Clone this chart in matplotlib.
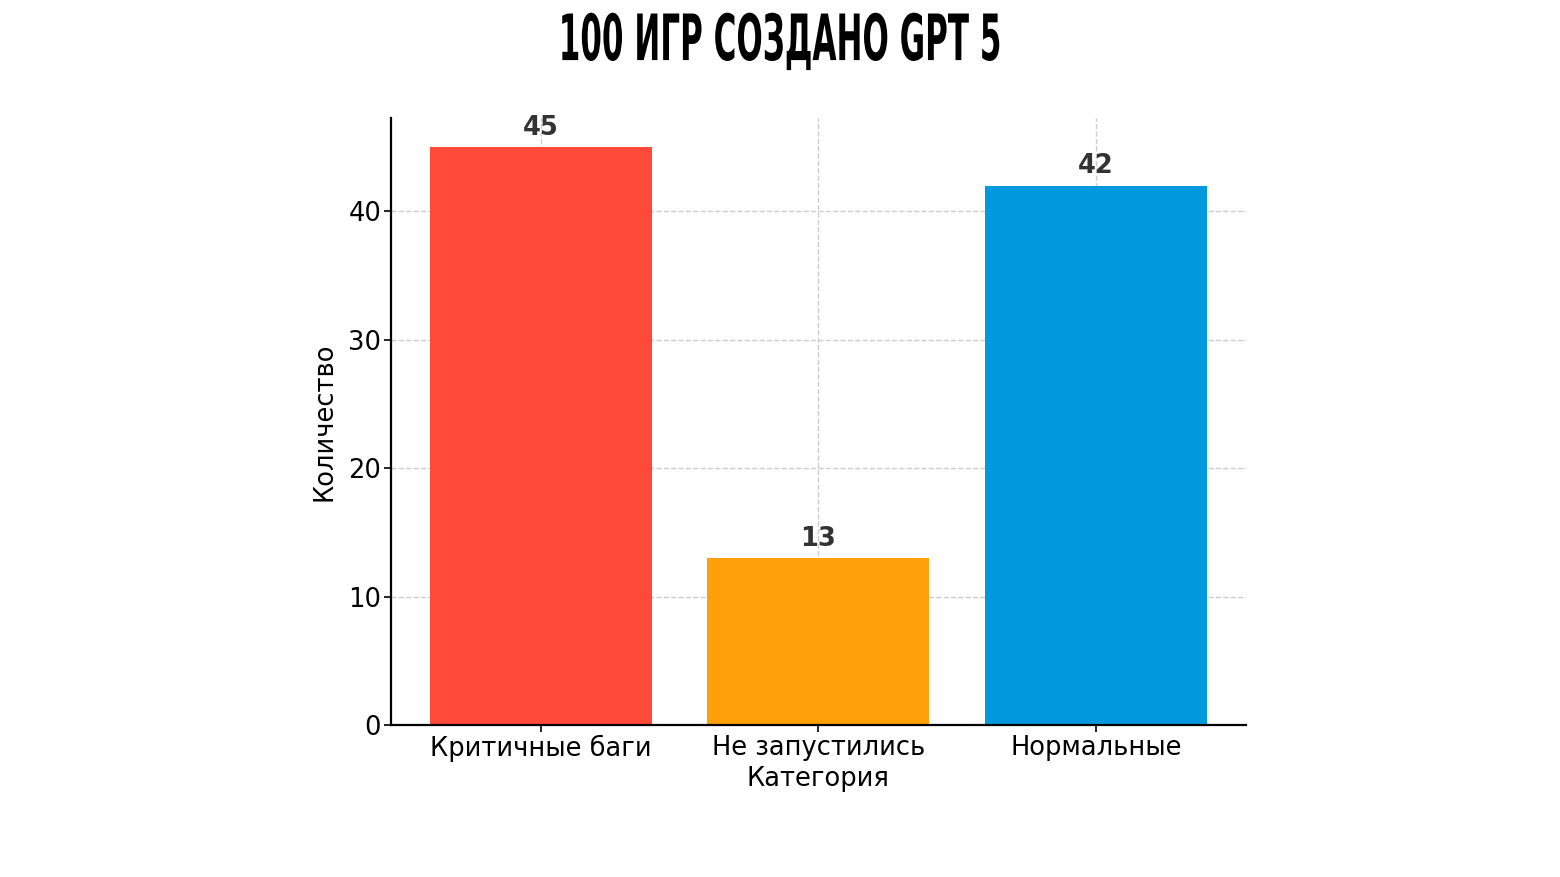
import numpy as np
import matplotlib.pyplot as plt
from matplotlib.patheffects import AbstractPathEffect
from matplotlib.transforms import Affine2D

categories = ['Критичные баги', 'Не запустились', 'Нормальные']
counts = [45, 13, 42]
colors = ['#ff4a3a', '#ff9f0a', '#0099dd']


class Squeeze(AbstractPathEffect):
    # narrow the glyphs horizontally around a center x (pixels)
    def __init__(self, cx, sx):
        super().__init__()
        self.cx = cx
        self.sx = sx

    def draw_path(self, renderer, gc, tpath, affine, rgbFace=None):
        t = affine + Affine2D().translate(-self.cx, 0).scale(self.sx, 1).translate(self.cx, 0)
        renderer.draw_path(gc, tpath, t, rgbFace)


fig = plt.figure(figsize=(15.6, 8.77), dpi=100)
ax = fig.add_axes([0.2506, 0.1733, 0.548, 0.692])

x = np.arange(len(categories))
bars = ax.bar(x, counts, width=0.8, color=colors, zorder=2)
for b, v in zip(bars, counts):
    ax.text(b.get_x() + b.get_width() / 2, v + 0.5, str(v), ha='center', va='bottom',
            fontsize=18.5, fontweight='bold', color='#333333', zorder=3)

ax.set_xticks(x)
ax.set_xticklabels(categories, fontsize=18.5)
ax.tick_params(axis='y', labelsize=18.5)
ax.tick_params(length=5, width=1.2, pad=2)
ax.set_ylim(0, 47.25)
ax.set_xlim(-0.54, 2.54)
ax.set_xlabel('Категория', fontsize=18.5, labelpad=3)
ax.set_ylabel('Количество', fontsize=18.5, labelpad=8)
ax.grid(True, linestyle='--', color='#cccccc', linewidth=1.0, zorder=0)
ax.spines['top'].set_visible(False)
ax.spines['right'].set_visible(False)
ax.spines['left'].set_linewidth(1.6)
ax.spines['bottom'].set_linewidth(1.6)

fig.text(0.5, 0.952, '100 ИГР СОЗДАНО GPT 5', ha='center', va='center',
         fontsize=46, fontweight='heavy', fontstretch='condensed',
         family=['DejaVu Sans'],
         path_effects=[Squeeze(0.5 * fig.bbox.width, 0.54)])

fig.savefig('out.png', dpi=100)
